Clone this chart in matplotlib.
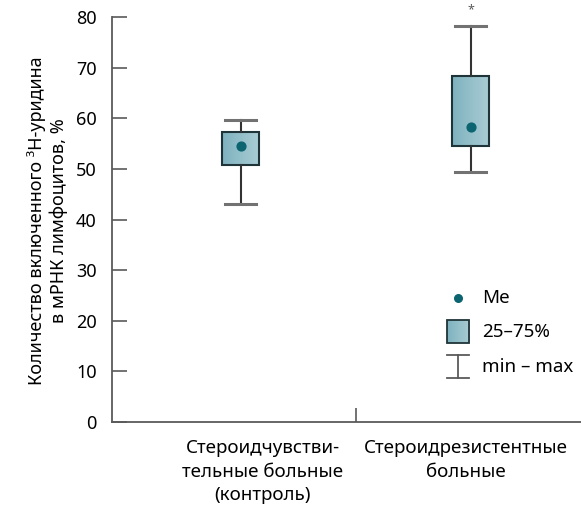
import matplotlib
matplotlib.use("Agg")
import matplotlib.pyplot as plt
import numpy as np
from matplotlib.patches import Rectangle

plt.rcParams["font.family"] = ["Noto Sans", "DejaVu Sans"]

# ---- данные ----
groups = ["Стероидчувстви-\nтельные больные\n(контроль)", "Стероидрезистентные\nбольные"]
medians = [54.5, 58.3]
q1 = [50.8, 54.5]
q3 = [57.3, 68.4]
mins = [43.1, 49.4]
maxs = [59.7, 78.3]
outlier_marks = ["", "*"]

yticks = [0, 10, 20, 30, 40, 50, 60, 70, 80]
ylabel = "Количество включенного ³H-уридина\nв мРНК лимфоцитов, %"

BOX_EDGE = "#1f3438"
DOT = "#0b6470"
GREY = "#5a5a5a"
CAP = "#727272"

fig = plt.figure(figsize=(5.81, 5.11), dpi=100)
ax = fig.add_axes([0.1928, 0.1742, 0.8072, 0.7925])

pos = np.arange(1, len(groups) + 1)
stats = [
    dict(med=m, q1=a, q3=b, whislo=lo, whishi=hi, fliers=[])
    for m, a, b, lo, hi in zip(medians, q1, q3, mins, maxs)
]
bp = ax.bxp(
    stats, positions=pos, widths=0.16, patch_artist=True, showfliers=False,
    boxprops=dict(facecolor="none", edgecolor=BOX_EDGE, linewidth=1.5),
    whiskerprops=dict(color="#333333", linewidth=1.5),
    capprops=dict(color=CAP, linewidth=2.2),
    medianprops=dict(linewidth=0),
    capwidths=0.135,
)

# градиентная заливка боксов
grad = np.linspace(0, 1, 64).reshape(1, -1)
cmap = matplotlib.colors.LinearSegmentedColormap.from_list("box", ["#7eb2bf", "#a9ccd4"])
for box, x, a, b in zip(bp["boxes"], pos, q1, q3):
    im = ax.imshow(grad, cmap=cmap, aspect="auto", extent=(x - 0.08, x + 0.08, a, b),
                   zorder=box.get_zorder() - 0.1)
    im.set_clip_path(box)

ax.scatter(pos, medians, s=40, color=DOT, zorder=5)

for x, hi, mark in zip(pos, maxs, outlier_marks):
    if mark:
        ax.text(x, hi + 3.2, mark, ha="center", va="center", fontsize=9,
                color=GREY, clip_on=False)

ax.set_xlim(0.44, 2.48)
ax.set_ylim(0, 80)
ax.set_yticks(yticks)
ax.set_xticks([1.5])
ax.set_xticklabels([""])
ax.tick_params(axis="y", direction="in", length=11, width=1.2, color=GREY,
               labelsize=13, pad=11)
ax.tick_params(axis="x", direction="in", length=10, width=1.2, color=GREY)
for s in ["top", "right"]:
    ax.spines[s].set_visible(False)
for s in ["left", "bottom"]:
    ax.spines[s].set_color(GREY)
    ax.spines[s].set_linewidth(1.3)

# подписи групп
label_x = [1.095, 1.98]
for lx, g in zip(label_x, groups):
    ax.text(lx, -3.4, g, ha="center", va="top", fontsize=13.5, linespacing=1.4,
            transform=ax.transData)

fig.text(0.082, 0.569, ylabel, rotation=90, ha="center", va="center",
         fontsize=13, linespacing=1.2)

# легенда
ax.scatter([0.738], [0.306], s=30, color=DOT, transform=ax.transAxes, clip_on=False)
leg_box = Rectangle((0.714, 0.195), 0.047, 0.057, transform=ax.transAxes,
                    facecolor="none", edgecolor=BOX_EDGE, linewidth=1.3, zorder=3)
ax.add_patch(leg_box)
im = ax.imshow(grad, cmap=cmap, aspect="auto", extent=(0.714, 0.761, 0.195, 0.252),
               transform=ax.transAxes, zorder=2)
im.set_clip_path(leg_box)
ax.plot([0.738, 0.738], [0.109, 0.165], color=GREY, lw=1.3, transform=ax.transAxes)
ax.plot([0.714, 0.761], [0.165, 0.165], color=GREY, lw=1.3, transform=ax.transAxes)
ax.plot([0.714, 0.761], [0.109, 0.109], color=GREY, lw=1.3, transform=ax.transAxes)
for yy, t in zip([0.306, 0.222, 0.136], ["Me", "25–75%", "min – max"]):
    ax.text(0.789, yy, t, transform=ax.transAxes, ha="left", va="center", fontsize=13.5)

ax.set_xlim(0.44, 2.48)
ax.set_ylim(0, 80)
fig.savefig("out.png", dpi=100)
